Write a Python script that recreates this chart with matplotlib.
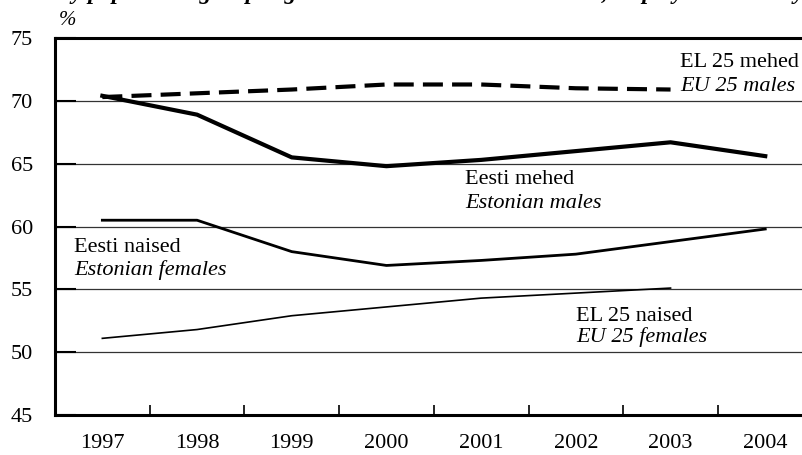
import matplotlib.pyplot as plt
from matplotlib.ticker import MultipleLocator

plt.rcParams['font.family'] = ['Liberation Serif', 'DejaVu Serif']

# Employment rate, %
years = ['1997', '1998', '1999', '2000', '2001', '2002', '2003', '2004']
eu_males = [70.3, 70.6, 70.9, 71.3, 71.3, 71.0, 70.9]
est_males = [70.4, 68.9, 65.5, 64.8, 65.3, 66.0, 66.7, 65.6]
est_females = [60.5, 60.5, 58.0, 56.9, 57.3, 57.8, 58.8, 59.8]
eu_females = [51.1, 51.8, 52.9, 53.6, 54.3, 54.7, 55.1]

fig = plt.figure(figsize=(8.03, 4.55), dpi=100)
ax = fig.add_axes([55 / 803, 40 / 455, 757.6 / 803, 377 / 455])

x_all = range(len(years))
ax.plot(range(len(eu_males)), eu_males, color='black', lw=3,
        linestyle=(0, (4.8, 2.2)), dash_capstyle='butt', zorder=5)
ax.plot(x_all, est_males, color='black', lw=3, solid_joinstyle='miter', zorder=5)
ax.plot(x_all, est_females, color='black', lw=2, zorder=5)
ax.plot(range(len(eu_females)), eu_females, color='black', lw=1.2, zorder=5)

ax.set_xlim(-0.5, len(years) - 0.5)
ax.set_ylim(45, 75)
ax.yaxis.set_major_locator(MultipleLocator(5))
ax.set_xticks(list(x_all))
ax.set_xticklabels(years)
ax.set_xticks([i + 0.5 for i in range(len(years) - 1)], minor=True)

# horizontal grid only
for v in range(50, 75, 5):
    ax.axhline(v, color='#333333', lw=0.9, zorder=1)

tick_fs = 16
ax.tick_params(axis='y', direction='in', length=15, width=1.5, pad=16,
               labelsize=tick_fs, color='black', right=False)
ax.tick_params(axis='x', which='major', length=0, pad=14, labelsize=tick_fs)
ax.tick_params(axis='x', which='minor', direction='in', length=7, width=1.2)
for lab in ax.get_yticklabels():
    lab.set_horizontalalignment('right')

for side in ['left', 'bottom', 'top']:
    ax.spines[side].set_linewidth(2.2)
ax.spines['right'].set_visible(False)

ax.text(0.005, 1 + 13 / 377, '%', transform=ax.transAxes, fontsize=15,
        style='italic', ha='left', va='baseline')

# series labels
lab_fs = 16
ax.text(6.1, 72.7, 'EL 25 mehed', fontsize=lab_fs, ha='left', va='baseline')
ax.text(6.1, 70.8, 'EU 25 males', fontsize=lab_fs, style='italic', ha='left', va='baseline')
ax.text(3.83, 63.4, 'Eesti mehed', fontsize=lab_fs, ha='left', va='baseline')
ax.text(3.83, 61.5, 'Estonian males', fontsize=lab_fs, style='italic', ha='left', va='baseline')
ax.text(-0.3, 58.0, 'Eesti naised', fontsize=lab_fs, ha='left', va='baseline')
ax.text(-0.3, 56.15, 'Estonian females', fontsize=lab_fs, style='italic', ha='left', va='baseline')
ax.text(5.0, 52.5, 'EL 25 naised', fontsize=lab_fs, ha='left', va='baseline')
ax.text(5.0, 50.8, 'EU 25 females', fontsize=lab_fs, style='italic', ha='left', va='baseline')

# last line of the heading, running off the top edge
fig.text(0.075, 1.0 + 1 / 455,
         'by population groups aged 15–64 in Estonia and EU 25, employment rate by sex and year',
         fontsize=17, weight='bold', style='italic', ha='left', va='baseline')

fig.savefig('out.png', dpi=100)
